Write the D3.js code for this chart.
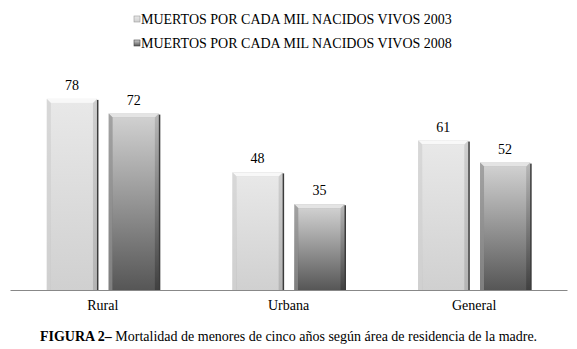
<!DOCTYPE html>
<html><head><meta charset="utf-8">
<script src="https://cdnjs.cloudflare.com/ajax/libs/d3/7.8.5/d3.min.js"></script>
</head><body style="margin:0">
<script>
const categories = ["Rural", "Urbana", "General"];
const seriesNames = ["MUERTOS POR CADA MIL NACIDOS VIVOS 2003", "MUERTOS POR CADA MIL NACIDOS VIVOS 2008"];
const values2003 = [78, 48, 61];
const values2008 = [72, 35, 52];
const caption = ["FIGURA 2–", " Mortalidad de menores de cinco años según área de residencia de la madre."];

const FS = 14;
const W = 577, H = 349;
function serif(sel) { return sel.style("font-family", '"Liberation Serif"').attr("font-size", FS).attr("fill", "#000"); }

const svg = d3.select("body").append("svg").attr("width", W).attr("height", H).style("display", "block");
const defs = svg.append("defs");

function grad(id, stops) {
  const g = defs.append("linearGradient").attr("id", id)
    .attr("x1", 0).attr("y1", 0).attr("x2", 0).attr("y2", 1);
  stops.forEach(s => g.append("stop").attr("offset", s[0]).attr("stop-color", s[1]));
}
grad("g0", [[0, "#e8e8e8"], [1, "#d0d0d0"]]);
grad("g1", [[0, "#d0d0d0"], [0.35, "#a6a6a6"], [1, "#565656"]]);
grad("s0", [[0, "#cfcfcf"], [1, "#b4b4b4"]]);
grad("s1", [[0, "#b8b8b8"], [1, "#404040"]]);

const x0 = d3.scaleBand().domain(categories).range([10, 567]).paddingInner(0).paddingOuter(0);
const x1 = d3.scaleBand().domain([0, 1]).range([0, 112]).paddingInner(0.19);
const y = d3.scaleLinear().domain([0, 80]).range([290, 94]);

const data = categories.map((c, i) => ({ c, v: [values2003[i], values2008[i]] }));
const groupOff = (x0.bandwidth() - 112) / 2;

const g = svg.append("g");
data.forEach(d => {
  d.v.forEach((v, s) => {
    const bx = x0(d.c) + groupOff + x1(s), bw = x1.bandwidth();
    const top = y(v), h = y(0) - y(v);
    const gg = g.append("g");
    gg.append("rect").attr("x", bx + 1.5).attr("y", top + 1).attr("width", bw).attr("height", h - 1)
      .attr("fill", "#1a1a1a").attr("opacity", 0.85);
    gg.append("rect").attr("x", bx).attr("y", top).attr("width", bw).attr("height", h)
      .attr("fill", `url(#s${s})`);
    gg.append("path").attr("d", `M${bx},${top}L${bx + bw},${top}L${bx + bw - 4},${top + 4}L${bx + 4},${top + 4}Z`)
      .attr("fill", s ? "#e4e4e4" : "#f8f8f8");
    gg.append("path").attr("d", `M${bx},${top}L${bx + 4},${top + 4}L${bx + 4},${top + h}L${bx},${top + h}Z`)
      .attr("fill", s ? "#9a9a9a" : "#dcdcdc").attr("opacity", 0.7);
    gg.append("rect").attr("x", bx + 4).attr("y", top + 4).attr("width", bw - 8).attr("height", h - 4)
      .attr("fill", `url(#g${s})`);
    serif(g.append("text").attr("x", bx + bw / 2).attr("y", top - 9).attr("text-anchor", "middle")).text(v);
  });
});

const axis = svg.append("g").attr("transform", "translate(0,290)")
  .call(d3.axisBottom(x0).tickSize(0).tickPadding(10));
axis.attr("font-family", null).attr("font-size", null);
axis.select(".domain").attr("stroke", "#888").attr("stroke-width", 1);
serif(axis.selectAll("text"));

const leg = svg.append("g");
seriesNames.forEach((n, i) => {
  const ly = 19 + i * 24;
  leg.append("rect").attr("x", 134).attr("y", ly - 3).attr("width", 6).attr("height", 6)
    .attr("fill", `url(#g${i})`).attr("stroke", i ? "#444" : "#999").attr("stroke-width", 0.6);
  serif(leg.append("text").attr("x", 141).attr("y", ly + 5)).text(n);
});

const cap = serif(svg.append("text").attr("x", W / 2).attr("y", 341).attr("text-anchor", "middle"));
cap.append("tspan").attr("font-weight", "bold").text(caption[0]);
cap.append("tspan").text(caption[1]);
</script>
</body></html>
